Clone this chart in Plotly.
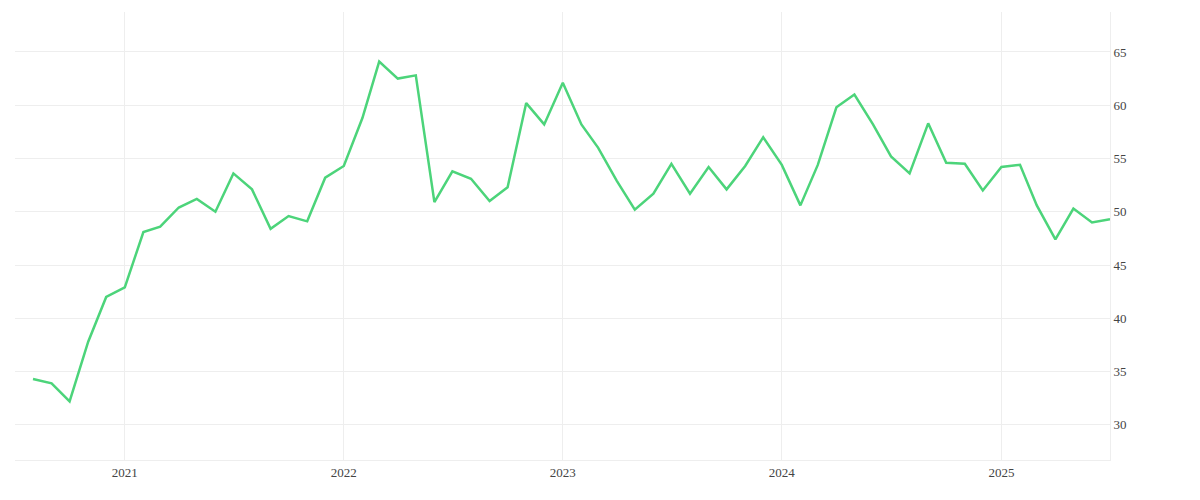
import pandas as pd
import plotly.graph_objects as go

MONTHS = pd.date_range("2020-08-01", "2025-07-01", freq="MS")
VALUES = [
    34.3, 33.9, 32.2, 37.8, 42.0,
    42.9, 48.1, 48.6, 50.4, 51.2, 50.0, 53.6, 52.1, 48.4, 49.6, 49.1, 53.2,
    54.3, 58.8, 64.1, 62.5, 62.8, 50.9, 53.8, 53.1, 51.0, 52.3, 60.2, 58.2,
    62.1, 58.2, 56.0, 52.9, 50.2, 51.7, 54.5, 51.7, 54.2, 52.1, 54.3, 57.0,
    54.4, 50.6, 54.4, 59.8, 61.0, 58.2, 55.2, 53.6, 58.3, 54.6, 54.5, 52.0,
    54.2, 54.4, 50.6, 47.4, 50.3, 49.0, 49.3,
]
Y_TICKS = [30, 35, 40, 45, 50, 55, 60, 65]

fig = go.Figure(go.Scatter(
    x=MONTHS, y=VALUES, mode="lines",
    line=dict(color="#4cd47a", width=2.5),
    hoverinfo="x+y",
))

fig.update_xaxes(
    range=["2020-07-02", "2025-07-01"],
    showgrid=True, gridcolor="#eeeeee",
    showline=True, linecolor="#eeeeee",
    dtick="M12", tickformat="%Y", ticks="", zeroline=False,
)
fig.update_yaxes(
    side="right", range=[26.7, 68.75],
    tickvals=Y_TICKS, showgrid=True, gridcolor="#eeeeee",
    showline=True, linecolor="#eeeeee", zeroline=False, ticks="",
)
fig.update_layout(
    width=1200, height=500,
    plot_bgcolor="white", paper_bgcolor="white",
    margin=dict(l=7, r=98, t=4, b=48),
    font=dict(family="Liberation Serif, DejaVu Serif, serif", size=13, color="#444"),
    showlegend=False,
)

fig.write_html("out.html")
